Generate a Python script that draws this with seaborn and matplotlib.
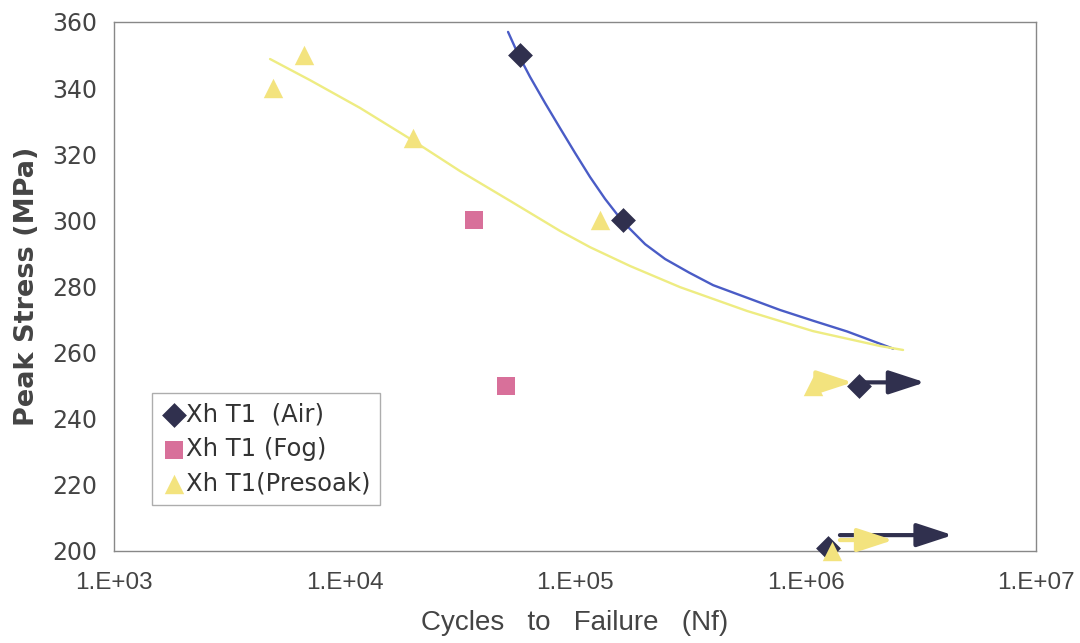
import pandas as pd
from matplotlib import pyplot as plt
import seaborn as sns

# measured points
air_n = [5.75e4, 1.62e5, 1.71e6, 1.25e6]
air_s = [350, 300, 250, 201]
fog_n = [3.63e4, 5.0e4]
fog_s = [300, 250]
pre_n = [4.89e3, 6.66e3, 1.98e4, 1.28e5, 1.08e6, 1.30e6]
pre_s = [340, 350, 325, 300, 250, 200]

# trend lines
air_fit_n = [51210, 56580, 63790, 74100, 86080, 1.0e5, 116200, 134960, 161560,
             201400, 246000, 312600, 397200, 562300, 774500, 1.072e6, 1.514e6, 2.399e6]
air_fit_s = [357.0, 350.3, 343.4, 335.5, 327.9, 320.4, 313.1, 306.5, 299.5,
             292.8, 288.3, 284.2, 280.4, 276.5, 272.9, 269.7, 266.4, 261.2]
pre_fit_n = [4752, 7087, 11675, 19630, 31700, 52240, 86100, 116100, 173200,
             285500, 557200, 1.078e6, 2.105e6, 2.649e6]
pre_fit_s = [348.8, 342.4, 334.0, 324.3, 314.9, 305.9, 296.8, 291.9, 286.2,
             279.8, 272.6, 266.5, 262.0, 260.8]

# run-out arrows: (start N, end N, stress, colour key)
arrows = [
    (1.75e6, 3.3e6, 251, "air"),
    (1.12e6, 1.6e6, 251, "pre"),
    (1.41e6, 4.35e6, 204.8, "air"),
    (1.41e6, 2.4e6, 203.3, "pre"),
]

labels = ["Xh T1  (Air)", "Xh T1 (Fog)", "Xh T1(Presoak)"]
colors = {"air": "#30304e", "fog": "#d8709a", "pre": "#f3e37e"}
line_colors = {"air": "#4a5cc6", "pre": "#eeec82"}


def main():
    sns.set_style("white")
    plt.rcParams["font.family"] = ["DejaVu Sans"]

    fits = pd.DataFrame({
        "N": air_fit_n + pre_fit_n,
        "S": air_fit_s + pre_fit_s,
        "grp": ["air"] * len(air_fit_n) + ["pre"] * len(pre_fit_n),
    })

    fig = plt.figure(figsize=(10.8, 6.43), dpi=100)
    ax = fig.add_axes([0.1056, 0.1431, 0.8537, 0.8227])

    sns.lineplot(data=fits, x="N", y="S", hue="grp", palette=line_colors,
                 lw=1.7, legend=False, ax=ax, sort=False)

    for s, e, y, k in arrows:
        ax.annotate("", xy=(e, y), xytext=(s, y), annotation_clip=False,
                    arrowprops=dict(arrowstyle="-|>,head_length=1.1,head_width=0.36",
                                    mutation_scale=20, color=colors[k], lw=3,
                                    shrinkA=0, shrinkB=0))

    sns.scatterplot(x=air_n, y=air_s, marker="D", s=160, color=colors["air"],
                    linewidth=0, ax=ax, clip_on=False, zorder=5, label=labels[0])
    sns.scatterplot(x=fog_n, y=fog_s, marker="s", s=165, color=colors["fog"],
                    linewidth=0, ax=ax, clip_on=False, zorder=5, label=labels[1])
    sns.scatterplot(x=pre_n, y=pre_s, marker="^", s=195, color=colors["pre"],
                    linewidth=0, ax=ax, clip_on=False, zorder=6, label=labels[2])

    ax.set_xscale("log")
    ax.set_xlim(1e3, 1e7)
    ax.set_ylim(200, 360)
    ax.set_yticks(range(200, 361, 20))
    ax.set_xticks([1e3, 1e4, 1e5, 1e6, 1e7])
    ax.set_xticklabels(["1.E+03", "1.E+04", "1.E+05", "1.E+06", "1.E+07"],
                       family=["Liberation Sans", "DejaVu Sans"], fontsize=17.5)
    ax.minorticks_off()
    for lab in ax.get_yticklabels():
        lab.set_fontsize(17)
    ax.tick_params(axis="both", colors="#444444", length=6, width=0.8,
                   direction="out", labelcolor="#444444")
    ax.tick_params(axis="x", pad=9)
    ax.tick_params(axis="y", pad=6)
    for sp in ax.spines.values():
        sp.set_color("#888888")
        sp.set_linewidth(1.0)

    ax.set_xlabel("Cycles   to   Failure   (Nf)", family=["Liberation Sans", "DejaVu Sans"],
                  fontsize=20, color="#444444", labelpad=12)
    ax.set_ylabel("Peak Stress (MPa)", fontsize=19.5, fontweight="bold",
                  color="#444444", labelpad=9)

    leg = ax.legend(loc="lower left", bbox_to_anchor=(0.041, 0.087), frameon=True,
                    fancybox=False, edgecolor="#999999", fontsize=17.5,
                    handletextpad=0.0, borderpad=0.4, labelspacing=0.42,
                    handlelength=1.0, borderaxespad=0)
    leg.get_frame().set_linewidth(1.0)
    for t in leg.get_texts():
        t.set_color("#333333")

    fig.savefig("out.png", dpi=100)


if __name__ == "__main__":
    main()
